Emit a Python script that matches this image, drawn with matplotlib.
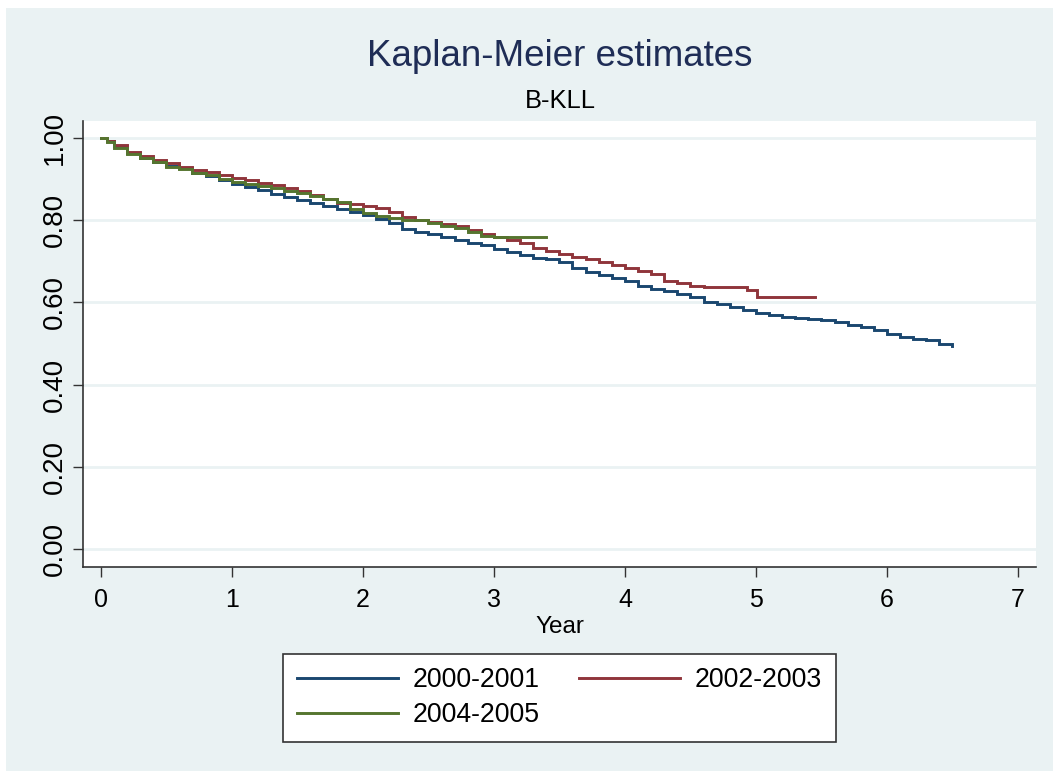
import matplotlib.pyplot as plt
from matplotlib.patches import Rectangle
from matplotlib.ticker import FormatStrFormatter

plt.rcParams["font.family"] = ["Liberation Sans", "DejaVu Sans"]

# survival estimates (year, S(t))
years_0001 = [0, 0.05, 0.1, 0.2, 0.3, 0.4, 0.5, 0.6, 0.7, 0.8, 0.9, 1.0,
              1.1, 1.2, 1.3, 1.4, 1.5, 1.6, 1.7, 1.8, 1.9, 2.0, 2.1, 2.2,
              2.3, 2.4, 2.5, 2.6, 2.7, 2.8, 2.9, 3.0, 3.1, 3.2, 3.3, 3.4,
              3.5, 3.6, 3.7, 3.8, 3.9, 4.0, 4.1, 4.2, 4.3, 4.4, 4.5, 4.6,
              4.7, 4.8, 4.9, 5.0, 5.1, 5.2, 5.3, 5.4, 5.5, 5.6, 5.7, 5.8,
              5.9, 6.0, 6.1, 6.2, 6.3, 6.4, 6.5]
surv_0001 = [1.0, 0.992, 0.980, 0.962, 0.950, 0.940, 0.932, 0.926, 0.915,
             0.908, 0.898, 0.888, 0.880, 0.873, 0.863, 0.857, 0.849, 0.841,
             0.834, 0.826, 0.819, 0.812, 0.803, 0.792, 0.778, 0.770, 0.765,
             0.760, 0.752, 0.745, 0.739, 0.729, 0.723, 0.716, 0.709, 0.705,
             0.697, 0.683, 0.674, 0.667, 0.660, 0.652, 0.640, 0.633, 0.628,
             0.621, 0.612, 0.602, 0.595, 0.588, 0.581, 0.575, 0.569, 0.564,
             0.562, 0.560, 0.558, 0.553, 0.546, 0.540, 0.532, 0.524, 0.516,
             0.511, 0.508, 0.500, 0.495]

years_0203 = [0, 0.05, 0.1, 0.2, 0.3, 0.4, 0.5, 0.6, 0.7, 0.8, 0.9, 1.0,
              1.1, 1.2, 1.3, 1.4, 1.5, 1.6, 1.7, 1.8, 1.9, 2.0, 2.1, 2.2,
              2.3, 2.4, 2.5, 2.6, 2.7, 2.8, 2.9, 3.0, 3.1, 3.2, 3.3, 3.4,
              3.5, 3.6, 3.7, 3.8, 3.9, 4.0, 4.1, 4.2, 4.3, 4.4, 4.5, 4.6,
              4.93, 5.01, 5.45]
surv_0203 = [1.0, 0.993, 0.982, 0.966, 0.955, 0.946, 0.938, 0.930, 0.922,
             0.916, 0.909, 0.903, 0.897, 0.890, 0.884, 0.877, 0.870, 0.862,
             0.850, 0.841, 0.838, 0.835, 0.829, 0.820, 0.808, 0.800, 0.795,
             0.790, 0.785, 0.776, 0.766, 0.759, 0.752, 0.745, 0.733, 0.724,
             0.718, 0.711, 0.705, 0.697, 0.690, 0.683, 0.676, 0.670, 0.652,
             0.647, 0.641, 0.637, 0.630, 0.612, 0.612]

years_0405 = [0, 0.05, 0.1, 0.2, 0.3, 0.4, 0.5, 0.6, 0.7, 0.8, 0.9, 1.0,
              1.1, 1.2, 1.3, 1.4, 1.5, 1.6, 1.7, 1.8, 1.9, 2.0, 2.1, 2.2,
              2.3, 2.4, 2.5, 2.6, 2.7, 2.8, 2.9, 3.0, 3.4]
surv_0405 = [1.0, 0.990, 0.975, 0.960, 0.950, 0.940, 0.930, 0.923, 0.915,
             0.910, 0.900, 0.892, 0.887, 0.882, 0.877, 0.871, 0.865, 0.858,
             0.852, 0.843, 0.828, 0.818, 0.810, 0.805, 0.800, 0.799, 0.793,
             0.786, 0.780, 0.772, 0.762, 0.760, 0.759]

labels = ["2000-2001", "2002-2003", "2004-2005"]
colors = ["#1A476F", "#90353B", "#55752F"]

x_ticks = [0, 1, 2, 3, 4, 5, 6, 7]
y_ticks = [0.0, 0.2, 0.4, 0.6, 0.8, 1.0]

W, H = 1053, 771
BG = "#EAF2F3"

fig = plt.figure(figsize=(W / 100, H / 100), dpi=100, facecolor="white")
fig.patches.append(Rectangle((6 / W, 0), 1 - 6 / W, 1 - 8 / H,
                             transform=fig.transFigure, facecolor=BG,
                             edgecolor="none", zorder=-10))

left, right = 83.3 / W, 1035.7 / W
bottom, top = 1 - 566.7 / H, 1 - 121 / H
ax = fig.add_axes([left, bottom, right - left, top - bottom])
ax.set_facecolor("white")

series = [(years_0001, surv_0001), (years_0203, surv_0203), (years_0405, surv_0405)]
lines = []
for (t, s), lab, col in zip(series, labels, colors):
    ln, = ax.step(t, s, where="post", color=col, lw=2.1, label=lab,
                  solid_joinstyle="miter")
    lines.append(ln)

ax.set_xlim(-0.133, 7.135)
ax.set_ylim(-0.042, 1.0406)
ax.set_xticks(x_ticks)
ax.set_yticks(y_ticks)
ax.yaxis.set_major_formatter(FormatStrFormatter("%.2f"))

ax.yaxis.grid(True, color=BG, lw=2.0)
ax.set_axisbelow(True)

for side in ["top", "right"]:
    ax.spines[side].set_visible(False)
for side in ["left", "bottom"]:
    ax.spines[side].set_color("#333333")
    ax.spines[side].set_linewidth(1.2)

ax.tick_params(axis="both", direction="out", length=7.2, width=1.0,
               color="#333333", labelcolor="black")
ax.tick_params(axis="x", pad=8, labelsize=18)
ax.tick_params(axis="y", pad=4, labelsize=20)
for lbl in ax.get_yticklabels():
    lbl.set_rotation(90)
    lbl.set_va("center")

ax.set_xlabel("Year", fontsize=17.5, labelpad=3)

fig.text(560 / W, 1 - 57 / H, "Kaplan-Meier estimates", fontsize=26.5,
         color="#1F2D56", ha="center", va="center")
fig.text(560 / W, 1 - 101 / H, "B-KLL", fontsize=18.4, color="black",
         ha="center", va="center")

# column-wise fill: order so that rows read 2000-2001, 2002-2003 / 2004-2005
order = [0, 2, 1]
leg = fig.legend([lines[i] for i in order], [labels[i] for i in order],
                 loc="center", bbox_to_anchor=(559.5 / W, 1 - 697.5 / H),
                 ncol=2, fontsize=19.2, frameon=True, fancybox=False,
                 framealpha=1, edgecolor="#333333", handlelength=3.78,
                 handletextpad=0.58, columnspacing=1.45, labelspacing=0.35,
                 borderpad=0.5)
leg.get_frame().set_linewidth(1.2)

fig.savefig("out.png", dpi=100, facecolor=fig.get_facecolor())
